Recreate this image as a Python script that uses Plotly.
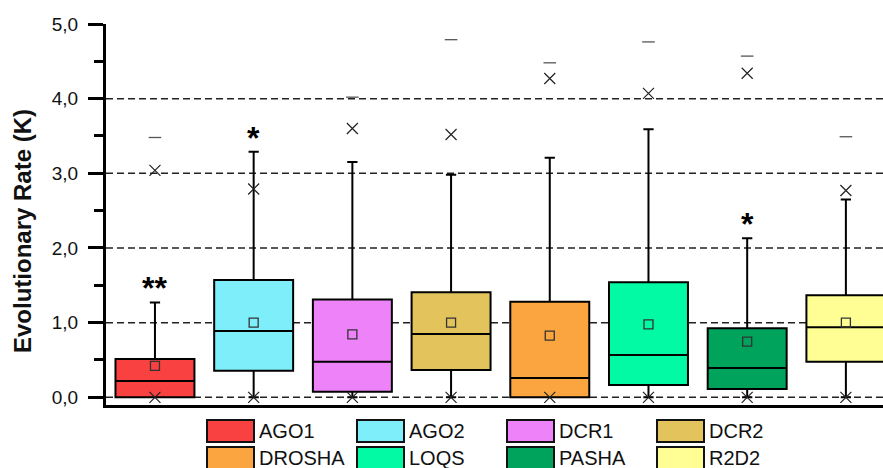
import plotly.graph_objects as go

# Evolutionary rate (K) summary statistics per RNAi / miRNA pathway gene
genes = ["AGO1", "AGO2", "DCR1", "DCR2", "DROSHA", "LOQS", "PASHA", "R2D2"]
fill_colors = ["#F94141", "#7EEEFB", "#EE82F8", "#E3C45C",
               "#FBA540", "#03FAA5", "#00A35C", "#FEFE94"]

q1 = [0.00, 0.356, 0.075, 0.366, 0.00, 0.165, 0.111, 0.477]
median = [0.22, 0.888, 0.477, 0.848, 0.258, 0.567, 0.392, 0.938]
q3 = [0.513, 1.57, 1.31, 1.406, 1.28, 1.54, 0.924, 1.366]
whisker_low = [0.0, 0.0, 0.0, 0.0, 0.0, 0.0, 0.0, 0.0]
whisker_high = [1.27, 3.29, 3.15, 2.98, 3.21, 3.59, 2.13, 2.65]
mean = [0.42, 1.00, 0.843, 1.00, 0.825, 0.978, 0.745, 1.00]
pct_1 = [0.0, 0.0, 0.0, 0.0, 0.0, 0.0, 0.0, 0.0]
pct_99 = [3.04, 2.79, 3.60, 3.52, 4.27, 4.07, 4.34, 2.77]
maximum = [3.48, None, 4.02, 4.79, 4.48, 4.76, 4.57, 3.49]
significance = ["**", "*", "", "", "", "", "*", ""]

grid_values = [0, 1, 2, 3, 4]

FONT = "Arial, 'Liberation Sans', sans-serif"
INK = "rgb(0,0,0)"

# plot-area geometry in pixels (used to place legend and title in paper coords)
PLOT_LEFT, PLOT_RIGHT, PLOT_TOP, PLOT_BOTTOM = 106, 883, 24, 405
Y_MIN, Y_MAX = -0.103, 5.0


def px_x(px):
    return (px - PLOT_LEFT) / (PLOT_RIGHT - PLOT_LEFT)


def px_y(py):
    return (PLOT_BOTTOM - py) / (PLOT_BOTTOM - PLOT_TOP)


fig = go.Figure()

for i, g in enumerate(genes):
    fig.add_trace(go.Box(
        x=[g], q1=[q1[i]], median=[median[i]], q3=[q3[i]],
        lowerfence=[whisker_low[i]], upperfence=[whisker_high[i]],
        boxpoints=False, width=0.8, whiskerwidth=0.13,
        fillcolor=fill_colors[i],
        line=dict(color=INK, width=2),
        showlegend=False, hoverinfo="skip",
    ))

# mean markers
fig.add_trace(go.Scatter(
    x=genes, y=mean, mode="markers", showlegend=False,
    marker=dict(symbol="square-open", size=9, color="#333333",
                line=dict(width=1.3, color="#333333")),
))
# 1st / 99th percentile crosses
fig.add_trace(go.Scatter(
    x=genes + genes, y=pct_1 + pct_99, mode="markers", showlegend=False,
    marker=dict(symbol="x-thin-open", size=11, color="#222222",
                line=dict(width=1.2, color="#222222")),
))
# maximum dashes
fig.add_trace(go.Scatter(
    x=genes, y=maximum, mode="markers", showlegend=False,
    marker=dict(symbol="line-ew-open", size=9, color="#555555",
                line=dict(width=1.3, color="#555555")),
))

shapes = []
for gv in grid_values:
    shapes.append(dict(type="line", xref="paper", x0=0, x1=1, yref="y",
                       y0=gv, y1=gv, layer="below",
                       line=dict(color="#222222", width=1.5, dash="7px,4px")))

annotations = []
# significance stars above the upper whiskers
for g, top, s in zip(genes, whisker_high, significance):
    if s:
        annotations.append(dict(x=g, y=top, xref="x", yref="y", text=s,
                                showarrow=False, yanchor="middle", yshift=14,
                                font=dict(family=FONT, size=32, color=INK,
                                          weight="bold")))

# y-axis title
annotations.append(dict(x=px_x(23), y=px_y(231), xref="paper", yref="paper",
                        text="Evolutionary Rate (K)", textangle=-90,
                        showarrow=False, xanchor="center", yanchor="middle",
                        font=dict(family=FONT, size=24, color="#111111",
                                  weight="bold")))

# legend: two rows of four swatches below the axis
for i, (g, c) in enumerate(zip(genes, fill_colors)):
    col, row = i % 4, i // 4
    x0 = 207 + 150 * col
    y0 = 420 + 27 * row
    shapes.append(dict(type="rect", xref="paper", yref="paper",
                       x0=px_x(x0), x1=px_x(x0 + 47),
                       y0=px_y(y0), y1=px_y(y0 + 22),
                       fillcolor=c, line=dict(color="#111111", width=2)))
    annotations.append(dict(x=px_x(x0 + 50), y=px_y(y0 + 11),
                            xref="paper", yref="paper", text=g,
                            showarrow=False, xanchor="left", yanchor="middle",
                            font=dict(family=FONT, size=20, color="#111111")))

fig.update_layout(
    width=883, height=468,
    margin=dict(l=PLOT_LEFT, r=883 - PLOT_RIGHT, t=PLOT_TOP, b=468 - PLOT_BOTTOM),
    paper_bgcolor="white", plot_bgcolor="white",
    separators=",.",
    boxmode="overlay",
    shapes=shapes, annotations=annotations,
    font=dict(family=FONT, color="#111111"),
    xaxis=dict(type="category", range=[-0.496, 7.376], showticklabels=False,
               showgrid=False, zeroline=False, ticks="",
               showline=True, linewidth=3, linecolor=INK),
    yaxis=dict(range=[Y_MIN, Y_MAX], tick0=0, dtick=1, tickformat=".1f",
               ticks="outside", ticklen=15, tickwidth=3, tickcolor=INK,
               ticklabelstandoff=6,
               showline=True, linewidth=3, linecolor=INK,
               showgrid=False, zeroline=False,
               tickfont=dict(family=FONT, size=19, color="#111111"),
               minor=dict(dtick=0.5, tick0=0, ticks="outside", ticklen=9,
                          tickwidth=3, tickcolor=INK, showgrid=False)),
)

fig.write_html("out.html")
